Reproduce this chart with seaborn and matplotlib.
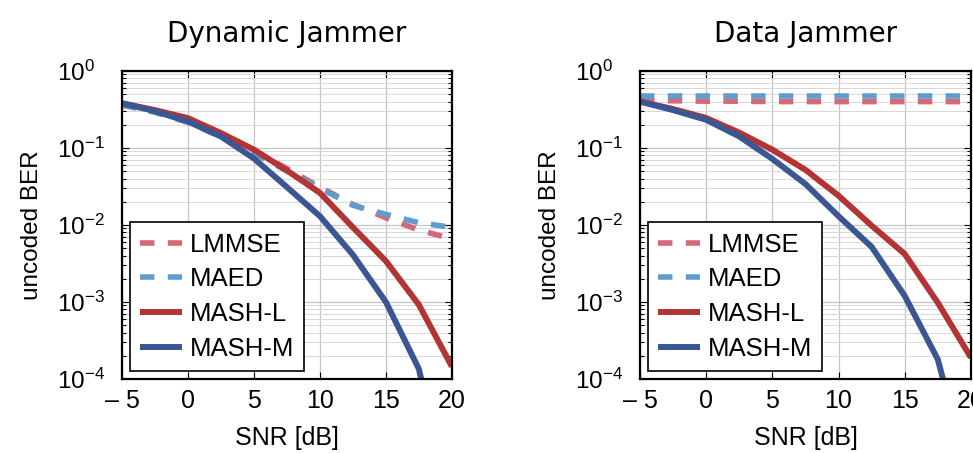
import numpy as np
import pandas as pd
import matplotlib
matplotlib.use("Agg")
import matplotlib.pyplot as plt
from matplotlib.ticker import LogLocator, NullFormatter, MultipleLocator, FuncFormatter
import seaborn as sns

# data
snr = [-5, -2.5, 0, 2.5, 5, 7.5, 10, 12.5, 15, 17.5, 20]

dyn_lmmse = [0.37, 0.30, 0.225, 0.15, 0.092, 0.054, 0.031, 0.0185, 0.0124, 0.0086, 0.0066]
dyn_maed = [0.36, 0.29, 0.215, 0.14, 0.086, 0.050, 0.030, 0.018, 0.0137, 0.0107, 0.0093]
dyn_mashl = [0.38, 0.31, 0.244, 0.156, 0.095, 0.051, 0.0261, 0.0093, 0.0034, 0.00092, 0.000145]
dyn_mashm = [0.38, 0.30, 0.22, 0.141, 0.073, 0.031, 0.013, 0.0041, 0.0010, 0.000135, 0.000002]

dat_lmmse = [0.41, 0.41, 0.405, 0.405, 0.40, 0.40, 0.40, 0.40, 0.40, 0.40, 0.40]
dat_maed = [0.47] * 11
dat_mashl = [0.40, 0.32, 0.245, 0.158, 0.095, 0.052, 0.024, 0.0098, 0.0042, 0.00098, 0.00019]
dat_mashm = [0.40, 0.31, 0.232, 0.141, 0.072, 0.034, 0.013, 0.0052, 0.0012, 0.00018, 0.0000043]

methods = ["LMMSE", "MAED", "MASH-L", "MASH-M"]
colors = {"LMMSE": "#d4697a", "MAED": "#609bcd", "MASH-L": "#b23434", "MASH-M": "#3a5794"}
dashed = {"LMMSE": True, "MAED": True, "MASH-L": False, "MASH-M": False}

panels = {
    "Dynamic Jammer": [dyn_lmmse, dyn_maed, dyn_mashl, dyn_mashm],
    "Data Jammer": [dat_lmmse, dat_maed, dat_mashl, dat_mashm],
}

sns.set_theme(style="ticks")
plt.rcParams["font.family"] = ["Liberation Sans", "DejaVu Sans"]
plt.rcParams["mathtext.fontset"] = "custom"
plt.rcParams["mathtext.rm"] = "Liberation Sans"
plt.rcParams["mathtext.it"] = "Liberation Sans:italic"
plt.rcParams["mathtext.default"] = "regular"
plt.rcParams["text.color"] = "black"
plt.rcParams["axes.labelcolor"] = "black"
plt.rcParams["axes.titlecolor"] = "black"


def snr_label(v, pos):
    v = int(round(v))
    return f"\u2013 {abs(v)}" if v < 0 else f"{v}"


fig = plt.figure(figsize=(9.73, 4.53), dpi=100)
positions = [[0.1254, 0.1634, 0.339, 0.680], [0.6578, 0.1634, 0.340, 0.680]]

for (title, series), pos in zip(panels.items(), positions):
    ax = fig.add_axes(pos)
    for name, vals in zip(methods, series):
        df = pd.DataFrame({"snr": snr, "ber": vals})
        kw = dict(linestyle=(0, (2.6, 2.4)), lw=4.0) if dashed[name] else dict(lw=4.3)
        sns.lineplot(data=df, x="snr", y="ber", ax=ax, color=colors[name],
                     label=name, solid_capstyle="butt", dash_capstyle="butt", **kw)
    ax.set_yscale("log")
    ax.set_xlim(-5, 20)
    ax.set_ylim(1e-4, 1)
    ax.xaxis.set_major_locator(MultipleLocator(5))
    ax.xaxis.set_major_formatter(FuncFormatter(snr_label))
    ax.yaxis.set_major_locator(LogLocator(base=10, numticks=10))
    ax.yaxis.set_minor_locator(LogLocator(base=10, subs=np.arange(2, 10), numticks=10))
    ax.yaxis.set_minor_formatter(NullFormatter())
    ax.grid(True, which="major", color="#c4c4c4", lw=0.9)
    ax.grid(True, which="minor", axis="y", color="#d8d8d8", lw=0.7)
    ax.set_axisbelow(True)
    for s in ax.spines.values():
        s.set_linewidth(1.6)
        s.set_color("black")
    ax.tick_params(which="both", direction="in", top=True, right=True,
                   colors="black", width=0.8)
    ax.tick_params(which="major", length=5)
    ax.tick_params(which="minor", length=3)
    ax.tick_params(axis="x", labelsize=18, pad=7)
    ax.tick_params(axis="y", labelsize=17.5, pad=47)
    for lab in ax.get_yticklabels():
        lab.set_horizontalalignment("left")
    ax.set_xlabel("SNR [dB]", fontsize=18)
    ax.xaxis.set_label_coords(0.5, -0.19)
    ax.xaxis.label.set_verticalalignment("center")
    ax.set_ylabel("uncoded BER", fontsize=17.5)
    ax.yaxis.set_label_coords(-0.273, 0.5)
    ax.yaxis.label.set_verticalalignment("center")
    ax.set_title(title, fontsize=20, pad=21, family=["DejaVu Sans"])
    leg = ax.legend(loc="lower left", fontsize=18.5, frameon=True, fancybox=False,
                    handlelength=1.63, handletextpad=0.3, labelspacing=0.42,
                    borderpad=0.4, borderaxespad=0.3)
    leg.get_frame().set_edgecolor("black")
    leg.get_frame().set_linewidth(1.2)
    leg.get_frame().set_alpha(1.0)
    leg.set_zorder(10)

fig.savefig("out.png", dpi=100)
